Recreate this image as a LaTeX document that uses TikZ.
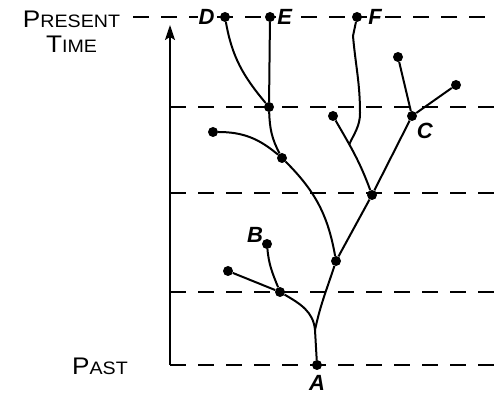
\documentclass[tikz,border=0pt]{standalone}
\usepackage{fontspec}
\setmainfont{Liberation Sans}
\newfontfamily\capfont[FakeStretch=1.09]{Liberation Sans}
\usetikzlibrary{arrows.meta,positioning}

\newcommand{\smallcap}[2]{{\fontsize{24}{24}\selectfont #1}{\fontsize{18}{18}\selectfont #2}}

\begin{document}
\begin{tikzpicture}[x=1pt,y=1pt,
  dot/.style={circle,fill,inner sep=0pt,minimum size=10pt},
  lbl/.style={font=\fontsize{22}{22}\selectfont\bfseries\itshape,inner sep=1pt},
  era/.style={font=\capfont,inner sep=1pt},
  level/.style={line width=1.8pt,dash pattern=on 16pt off 12pt},
  branch/.style={line width=2pt}]
  \useasboundingbox (0,0) rectangle (495,398);
  \draw[level] (133,381) -- (495,381);
  \foreach \y in {291,205,106,33}
    \draw[level] (170,\y) -- (495,\y);
  \coordinate (past) at (170,33);
  \coordinate (now) at (170,373);
  \draw[line width=2pt,-{Stealth[length=15pt,width=10pt,inset=3pt]}] (past) -- (now);
  \node[era,anchor=base] (present) at (71.5,370) {\smallcap{P}{RESENT}};
  \node[era,anchor=base] (time) at (71.5,345) {\smallcap{T}{IME}};
  \node[era,anchor=base east] (pastlbl) at (129,23) {\smallcap{P}{AST}};
  \node[dot] (A) at (317,33) {};
  \coordinate (S) at (315,68);
  \node[dot] (N1) at (280,106) {};
  \node[dot] (L1) at (228,127) {};
  \node[dot] (B) at (267,154) {};
  \node[dot] (N2) at (336,137) {};
  \node[dot] (N3) at (372,203) {};
  \node[dot] (N4) at (282,240) {};
  \node[dot] (L2) at (213,266) {};
  \node[dot] (N5) at (269,291) {};
  \node[dot] (D) at (225,381) {};
  \node[dot] (E) at (270,381) {};
  \node[dot] (F) at (357,381) {};
  \node[dot] (L3) at (333,282) {};
  \node[dot] (C) at (412,282) {};
  \node[dot] (L4) at (398,341) {};
  \node[dot] (L5) at (456,313) {};
  \coordinate (Fk) at (353,362);
  \coordinate (Fb) at (360,285);
  \draw[branch] (A) -- (S) to[out=95,in=-30] (N1);
  \draw[branch] (S) to[out=78,in=-108] (N2);
  \draw[branch] (N1) -- (L1);
  \draw[branch] (N1) to[out=112,in=-85] (B);
  \draw[branch] (N2) -- (N3);
  \draw[branch] (N2) to[out=100,in=-45] (N4);
  \draw[branch] (N4) to[out=140,in=0] (L2);
  \draw[branch] (N4) to[out=118,in=-88] (N5);
  \draw[branch] (N5) to[out=130,in=-80] (D);
  \draw[branch] (N5) -- (E);
  \draw[branch] (N3) to[out=110,in=-60] coordinate[pos=0.66] (J) (L3);
  \draw[branch] (N3) -- (C);
  \draw[branch] (C) -- (L4);
  \draw[branch] (C) -- (L5);
  \draw[branch] (F) -- (Fk) to[out=-85,in=90] (Fb) to[out=-90,in=65] (J);
  \node[lbl,fill=white,left=4pt of D] {D};
  \node[lbl,fill=white,right=1pt of E] {E};
  \node[lbl,fill=white,right=5pt of F] {F};
  \node[lbl,below right=2pt and 0pt of C] {C};
  \node[lbl,above left=-3pt and -1pt of B] {B};
  \node[lbl,below=4pt of A] {A};
\end{tikzpicture}
\end{document}
